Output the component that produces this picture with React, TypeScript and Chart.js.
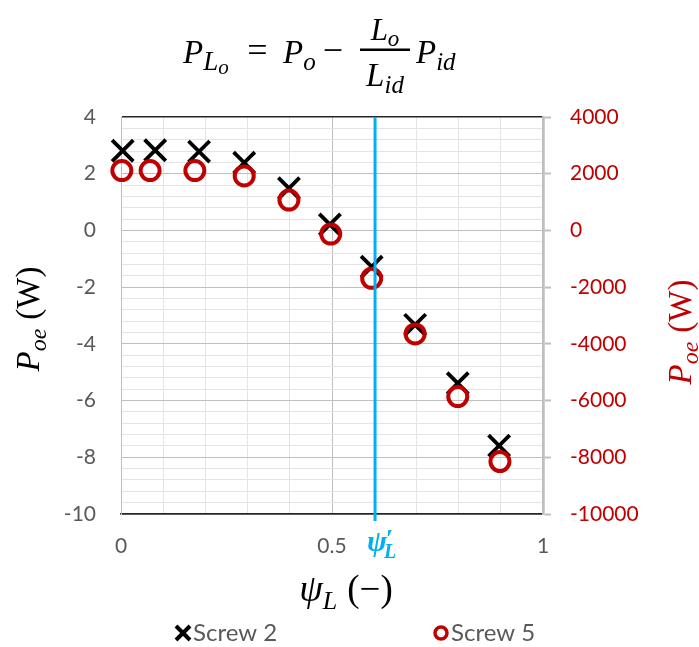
import React, { useEffect, useRef } from "react";
import { Chart, registerables } from "chart.js";

Chart.register(...registerables);

// ---- data ----
const psiScrew2 = [0.004, 0.081, 0.185, 0.292, 0.398, 0.495, 0.594, 0.697, 0.798, 0.896];
const powerScrew2 = [2.81, 2.83, 2.78, 2.39, 1.49, 0.21, -1.28, -3.33, -5.39, -7.59];
const psiScrew5 = [0.002, 0.069, 0.175, 0.292, 0.398, 0.497, 0.594, 0.697, 0.798, 0.898];
const powerScrew5 = [2110, 2110, 2110, 1920, 1070, -130, -1690, -3650, -5860, -8150];
const psiPrime = 0.602;
const xTickLabels = [0, 0.5, 1];
const yLeftTickLabels = [4, 2, 0, -2, -4, -6, -8, -10];
const yRightTickLabels = [4000, 2000, 0, -2000, -4000, -6000, -8000, -10000];
const seriesNames = ["Screw 2", "Screw 5"];

const SERIF = '"Liberation Serif", "DejaVu Serif", serif';
const SANS = 'Lato, "Open Sans", sans-serif';
const GRAY_TEXT = "#595959";
const RED = "#C00000";
const BLUE = "#00B0F0";
const MAJOR = "#BFBFBF";
const MINOR = "#E4E4E4";
const DARK = "#262626";

type Piece = { t: string; size: number; dy?: number; up?: boolean; bold?: boolean; gap?: number };

function fontOf(p: Piece) {
  return `${p.up ? "normal" : "italic"} ${p.bold ? "bold" : "normal"} ${p.size}px ${SERIF}`;
}
function runWidth(ctx: CanvasRenderingContext2D, ps: Piece[]) {
  let w = 0;
  ps.forEach((p) => {
    ctx.font = fontOf(p);
    w += (p.gap || 0) + ctx.measureText(p.t).width;
  });
  return w;
}
function drawRun(ctx: CanvasRenderingContext2D, ps: Piece[], x: number, y: number) {
  let cx = x;
  ps.forEach((p) => {
    cx += p.gap || 0;
    ctx.font = fontOf(p);
    ctx.fillText(p.t, cx, y + (p.dy || 0));
    cx += ctx.measureText(p.t).width;
  });
  return cx;
}

const near = (arr: number[], v: number, eps: number) => arr.some((t) => Math.abs(t - v) < eps);

const overlayPlugin = {
  id: "overlay",
  afterDatasetsDraw(chart: any) {
    const { ctx, chartArea, scales } = chart;
    const x = scales.x.getPixelForValue(psiPrime);
    ctx.save();
    ctx.strokeStyle = BLUE;
    ctx.lineWidth = 3;
    ctx.beginPath();
    ctx.moveTo(x, chartArea.top);
    ctx.lineTo(x, chartArea.bottom + 7);
    ctx.stroke();
    ctx.restore();
  },
  afterDraw(chart: any) {
    const { ctx, scales } = chart;
    ctx.save();
    ctx.textBaseline = "alphabetic";
    ctx.textAlign = "left";

    // ---- title formula ----
    ctx.fillStyle = "#000";
    const base = 63;
    drawRun(ctx, [{ t: "P", size: 33 }, { t: "L", size: 27, dy: 7 }, { t: "o", size: 21, dy: 11 }], 183, base);
    ctx.font = fontOf({ t: "=", size: 36, up: true });
    const eqW = ctx.measureText("=").width;
    ctx.fillText("=", 257.5 - eqW / 2, base - 1);
    drawRun(ctx, [{ t: "P", size: 33 }, { t: "o", size: 25, dy: 7 }], 283, base);
    ctx.font = fontOf({ t: "\u2212", size: 36, up: true });
    const mW = ctx.measureText("\u2212").width;
    ctx.fillText("\u2212", 333 - mW / 2, base - 1);
    // fraction
    ctx.fillRect(360, 48.5, 50, 2.5);
    const num: Piece[] = [{ t: "L", size: 31 }, { t: "o", size: 23, dy: 6 }];
    const den: Piece[] = [{ t: "L", size: 33 }, { t: "id", size: 25, dy: 7 }];
    drawRun(ctx, num, 385 - runWidth(ctx, num) / 2, 40);
    drawRun(ctx, den, 385 - runWidth(ctx, den) / 2, 86);
    drawRun(ctx, [{ t: "P", size: 33 }, { t: "id", size: 25, dy: 7 }], 416, base);

    // ---- x axis title ----
    const xTitle: Piece[] = [
      { t: "\u03C8", size: 38 },
      { t: "L", size: 26, dy: 8 },
      { t: "(\u2212)", size: 37, up: true, gap: 10 },
    ];
    const xw = runWidth(ctx, xTitle);
    drawRun(ctx, xTitle, 346 - xw / 2, 601);

    // ---- psi' label ----
    ctx.fillStyle = BLUE;
    const px = scales.x.getPixelForValue(psiPrime) - 8;
    const endPsi = drawRun(ctx, [{ t: "\u03C8", size: 30, bold: true }], px, 551);
    drawRun(ctx, [{ t: "\u2032", size: 26, bold: true, up: true }], endPsi - 1, 547);
    drawRun(ctx, [{ t: "L", size: 20, bold: true }], endPsi - 3, 558);

    // ---- y axis titles ----
    const yTitle: Piece[] = [
      { t: "P", size: 33 },
      { t: "oe", size: 24, dy: 7 },
      { t: "(W)", size: 33, up: true, gap: 9 },
    ];
    const yw = runWidth(ctx, yTitle);
    ctx.fillStyle = "#000";
    ctx.save();
    ctx.translate(39, 319);
    ctx.rotate(-Math.PI / 2);
    drawRun(ctx, yTitle, -yw / 2, 0);
    ctx.restore();
    ctx.fillStyle = RED;
    ctx.save();
    ctx.translate(691, 332);
    ctx.rotate(-Math.PI / 2);
    drawRun(ctx, yTitle, -yw / 2, 0);
    ctx.restore();

    // ---- legend ----
    const ly = 633;
    ctx.lineWidth = 4;
    ctx.strokeStyle = "#000";
    ctx.beginPath();
    ctx.moveTo(176, ly - 7);
    ctx.lineTo(190, ly + 7);
    ctx.moveTo(190, ly - 7);
    ctx.lineTo(176, ly + 7);
    ctx.stroke();
    ctx.strokeStyle = RED;
    ctx.lineWidth = 3.5;
    ctx.beginPath();
    ctx.arc(441, ly, 6, 0, Math.PI * 2);
    ctx.stroke();
    ctx.fillStyle = GRAY_TEXT;
    ctx.font = `24px ${SANS}`;
    ctx.textBaseline = "middle";
    ctx.fillText(seriesNames[0], 193, ly);
    ctx.fillText(seriesNames[1], 451, ly);
    ctx.restore();
  },
};

export default function App() {
  const ref = useRef<HTMLCanvasElement>(null);
  useEffect(() => {
    if (!ref.current) return;
    const chart = new Chart(ref.current, {
      type: "scatter",
      data: {
        datasets: [
          {
            label: seriesNames[1],
            data: psiScrew5.map((x, i) => ({ x, y: powerScrew5[i] })),
            yAxisID: "y2",
            pointStyle: "circle",
            pointRadius: 9.5,
            pointBorderWidth: 4,
            borderColor: RED,
            backgroundColor: "rgba(0,0,0,0)",
            showLine: false,
            clip: false,
          },
          {
            label: seriesNames[0],
            data: psiScrew2.map((x, i) => ({ x, y: powerScrew2[i] })),
            yAxisID: "y",
            pointStyle: "crossRot",
            pointRadius: 15,
            pointBorderWidth: 3.8,
            borderColor: "#000",
            backgroundColor: "#000",
            showLine: false,
            clip: false,
          },
        ],
      },
      options: {
        responsive: true,
        maintainAspectRatio: false,
        animation: false,
        events: [],
        layout: { padding: { top: 117, left: 0, right: 0, bottom: 0 } },
        plugins: { legend: { display: false }, title: { display: false }, tooltip: { enabled: false } },
        scales: {
          x: {
            type: "linear",
            min: 0,
            max: 1,
            afterFit: (s: any) => {
              s.height = 133;
            },
            ticks: {
              stepSize: 0.1,
              autoSkip: false,
              maxRotation: 0,
              padding: 20,
              color: GRAY_TEXT,
              font: { family: SANS, size: 21 },
              callback: (v: any) => {
                const n = Number(v);
                const hit = xTickLabels.find((t) => Math.abs(t - n) < 1e-6);
                return hit === undefined ? "" : String(hit);
              },
            },
            grid: {
              drawTicks: false,
              color: (c: any) => (near(xTickLabels, c.tick.value, 1e-6) ? MAJOR : MINOR),
              lineWidth: (c: any) => (Math.abs(c.tick.value - 1) < 1e-6 ? 2.5 : 1),
            },
            border: { color: DARK, width: 1.5 },
          },
          y: {
            type: "linear",
            position: "left",
            min: -10,
            max: 4,
            afterFit: (s: any) => {
              s.width = 121;
            },
            ticks: {
              stepSize: 0.4,
              autoSkip: false,
              padding: 25,
              color: GRAY_TEXT,
              font: { family: SANS, size: 21 },
              callback: (v: any) => {
                const n = Number(v);
                const hit = yLeftTickLabels.find((t) => Math.abs(t - n) < 1e-6);
                return hit === undefined ? "" : String(hit);
              },
            },
            grid: {
              drawTicks: false,
              color: (c: any) => {
                const v = c.tick.value;
                if (Math.abs(v - 4) < 1e-6 || Math.abs(v + 10) < 1e-6) return DARK;
                return near(yLeftTickLabels, v, 1e-6) ? MAJOR : MINOR;
              },
              lineWidth: (c: any) => {
                const v = c.tick.value;
                return Math.abs(v - 4) < 1e-6 || Math.abs(v + 10) < 1e-6 ? 1.5 : 1;
              },
            },
            border: { color: MAJOR, width: 1 },
          },
          y2: {
            type: "linear",
            position: "right",
            min: -10000,
            max: 4000,
            afterFit: (s: any) => {
              s.width = 156;
            },
            ticks: {
              stepSize: 2000,
              autoSkip: false,
              padding: 19,
              color: RED,
              font: { family: SANS, size: 21 },
              callback: (v: any) => {
                const n = Number(v);
                const hit = yRightTickLabels.find((t) => Math.abs(t - n) < 1e-3);
                return hit === undefined ? "" : String(hit);
              },
            },
            grid: {
              drawOnChartArea: false,
              drawTicks: true,
              tickLength: 8,
              tickColor: MAJOR,
              tickWidth: 2,
            },
            border: { color: MAJOR, width: 2.5 },
          },
        },
      },
      plugins: [overlayPlugin],
    } as any);
    let alive = true;
    const fonts = [
      `21px Lato`,
      `italic 30px "Liberation Serif"`,
      `30px "Liberation Serif"`,
      `italic bold 30px "Liberation Serif"`,
    ];
    Promise.all(fonts.map((f) => (document as any).fonts.load(f)))
      .then(() => {
        if (alive) chart.update();
      })
      .catch(() => {});
    return () => {
      alive = false;
      chart.destroy();
    };
  }, []);
  return (
    <div style={{ position: "absolute", left: 0, top: 0, width: 699, height: 647 }}>
      <canvas ref={ref} />
    </div>
  );
}
